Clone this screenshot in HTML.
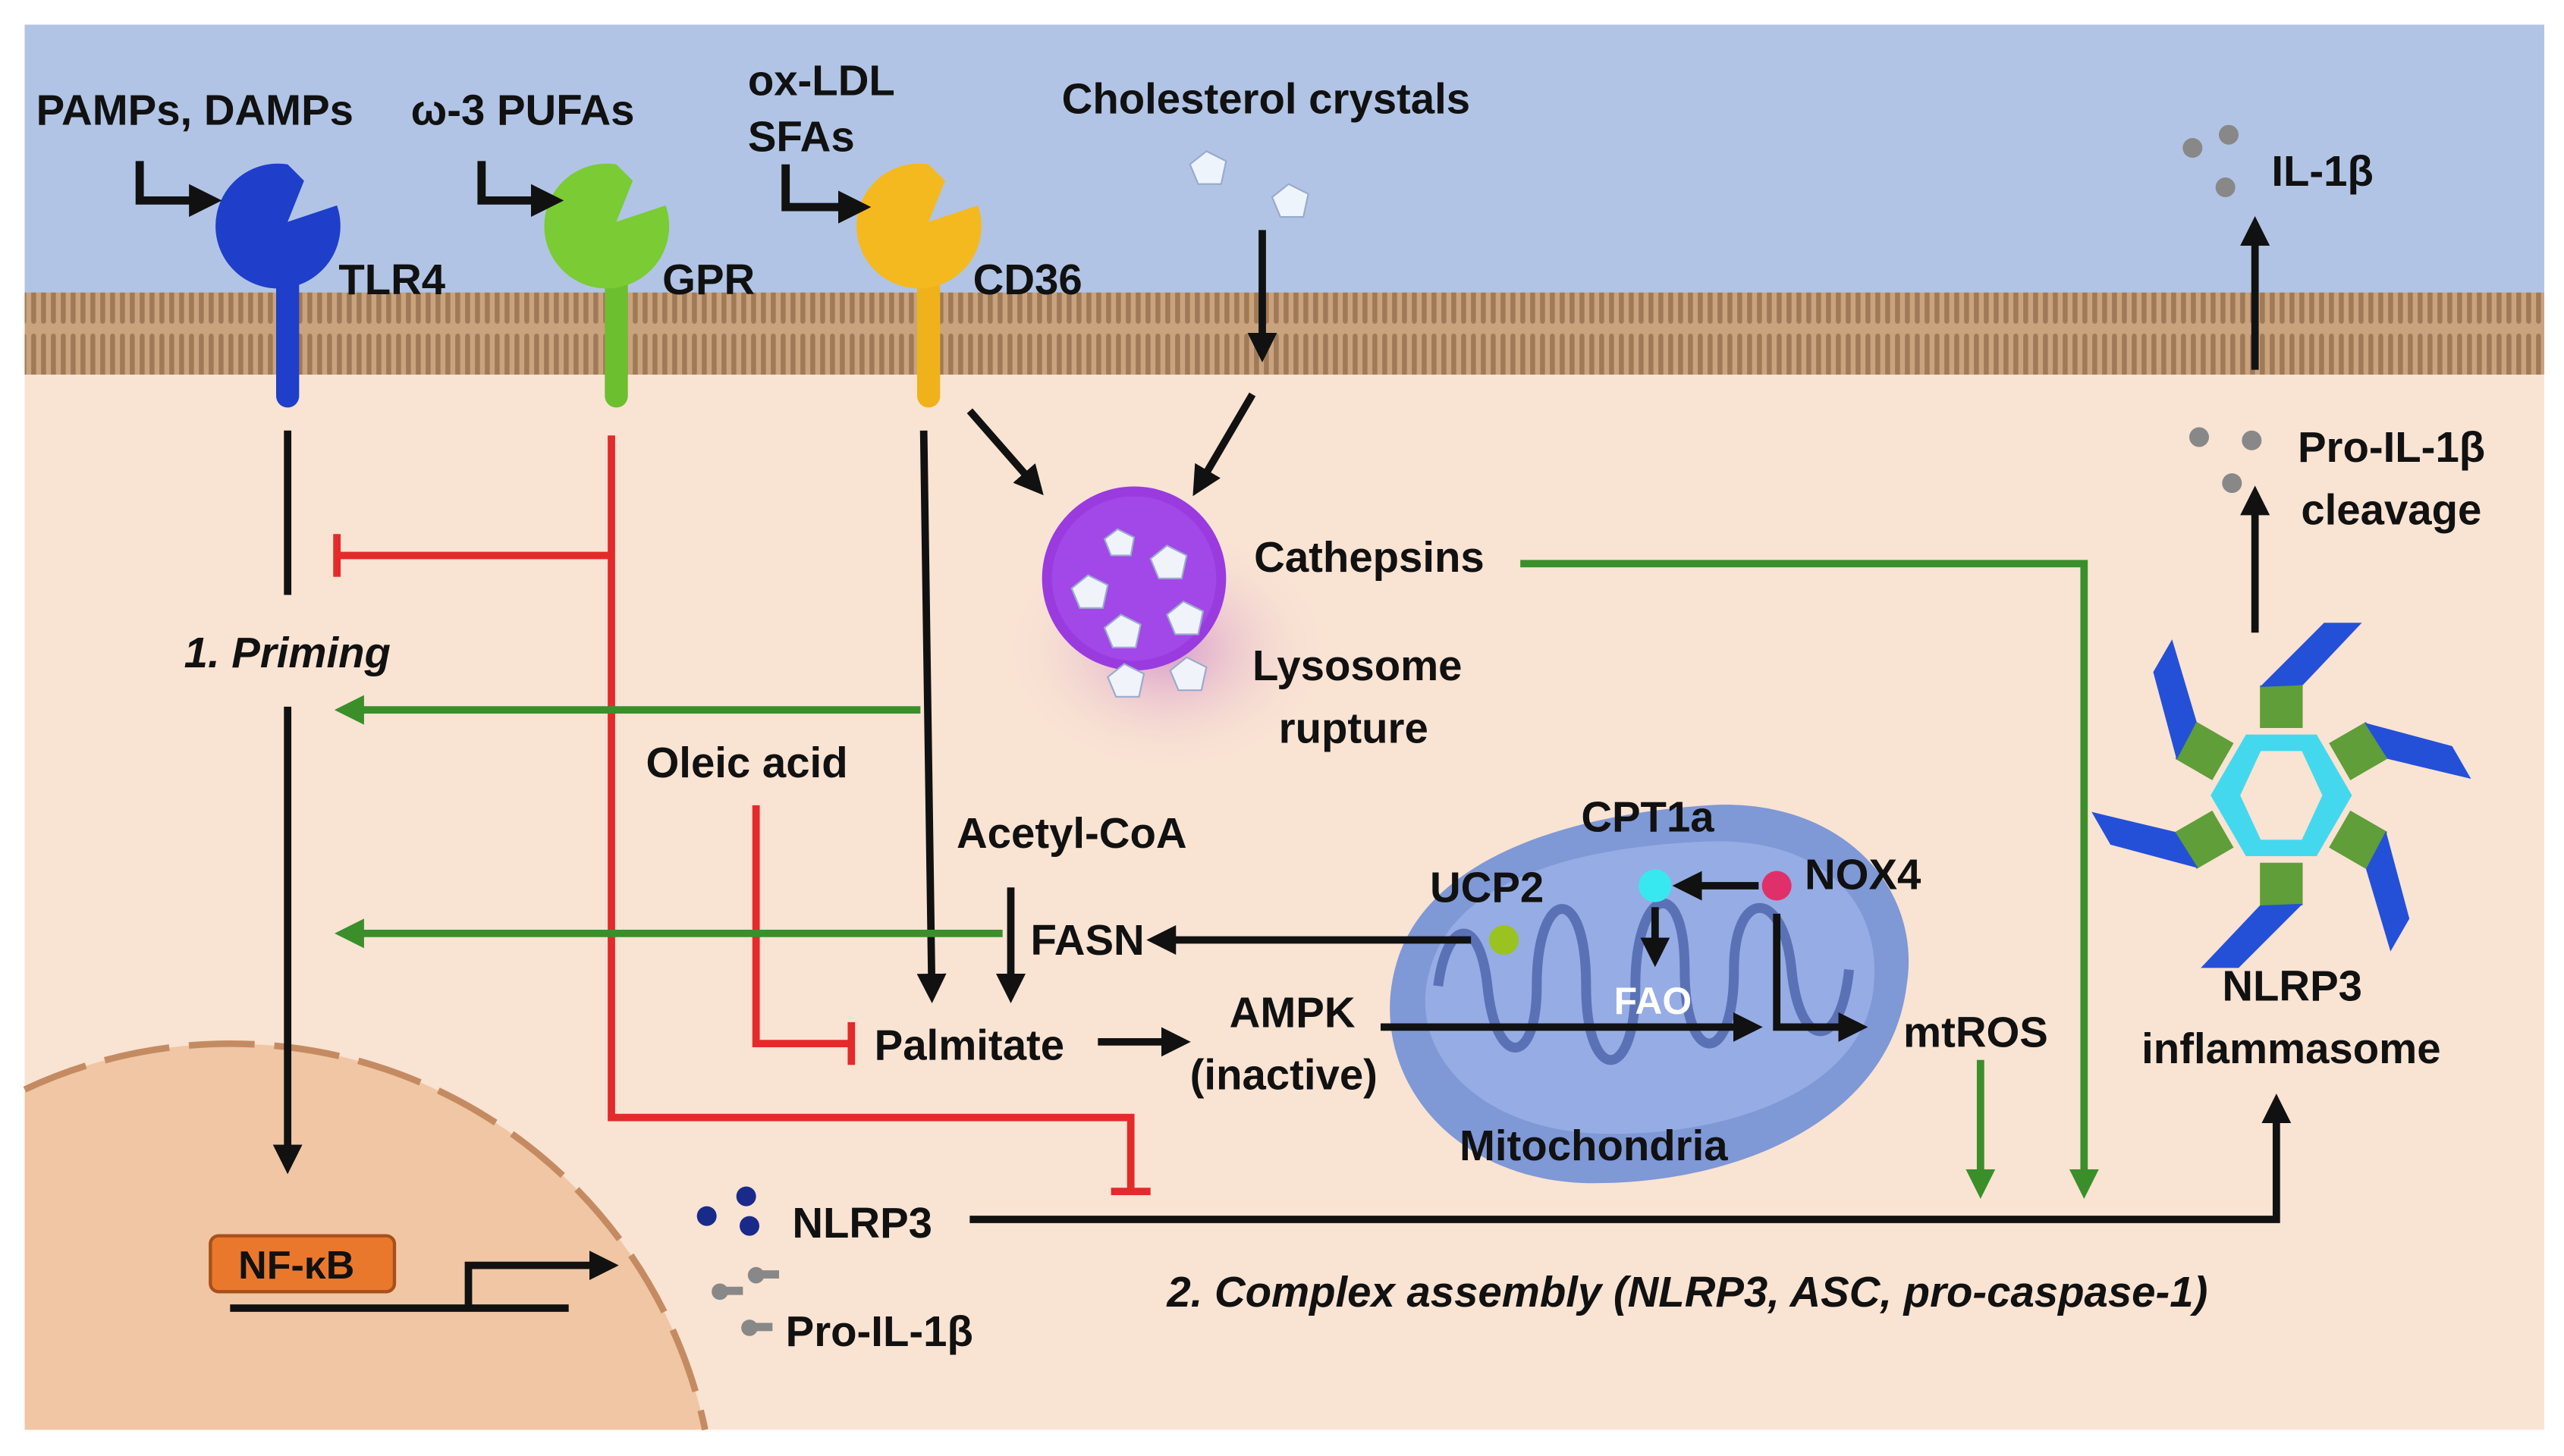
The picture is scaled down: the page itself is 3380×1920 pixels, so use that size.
<!DOCTYPE html>
<html><head><meta charset="utf-8"><style>
html,body{margin:0;padding:0;background:#fff;overflow:hidden;width:3380px;height:1920px;}
svg{display:block;}
text{font-family:"Liberation Sans",sans-serif;font-weight:bold;fill:#111;}
</style></head><body>
<svg width="3380" height="1920" viewBox="0 0 1560 886" preserveAspectRatio="none" xmlns="http://www.w3.org/2000/svg">
<defs>
<marker id="ab" markerWidth="4" markerHeight="4" refX="3" refY="2" orient="auto" markerUnits="strokeWidth"><path d="M0,0 L4,2 L0,4 z" fill="#111"/></marker>
<marker id="ag" markerWidth="4" markerHeight="4" refX="3" refY="2" orient="auto" markerUnits="strokeWidth"><path d="M0,0 L4,2 L0,4 z" fill="#3a8f2a"/></marker>
<pattern id="mem" width="6" height="50" patternUnits="userSpaceOnUse"><rect width="6" height="50" fill="#c9a27e"/><rect x="1" y="3" width="3" height="44" rx="1.5" fill="#a07a58"/></pattern>
<radialGradient id="glow"><stop offset="0" stop-color="#d89ccb"/><stop offset="1" stop-color="#f9e3d3" stop-opacity="0"/></radialGradient>
</defs>
<rect x="15" y="15" width="1533" height="165" fill="#b1c4e5"/>
<rect x="15" y="178" width="1533" height="50" fill="url(#mem)"/>
<rect x="15" y="228" width="1533" height="642" fill="#f9e3d3"/>
<path d="M15,663 A295,295 0 0,1 429,870 L15,870 Z" fill="#f0c6a4"/>
<path d="M15,663 A295,295 0 0,1 429,870" fill="none" stroke="#c48b62" stroke-width="4" stroke-dasharray="40,12"/>
<ellipse cx="710" cy="395" rx="100" ry="75" fill="url(#glow)"/>
<!-- receptors -->
<g>
<rect x="168" y="150" width="14" height="98" rx="7" fill="#1f3ec9"/>
<path d="M175,100 a38,38 0 1,0 30,25 L175,135 L185,110 z" fill="#1f3ec9"/>
<rect x="368" y="150" width="14" height="98" rx="7" fill="#6cbf2e"/>
<path d="M375,100 a38,38 0 1,0 30,25 L375,135 L385,110 z" fill="#7acb34"/>
<rect x="558" y="150" width="14" height="98" rx="7" fill="#f0b21a"/>
<path d="M565,100 a38,38 0 1,0 30,25 L565,135 L575,110 z" fill="#f4b91e"/>
</g>
<text x="22" y="76" font-size="26">PAMPs, DAMPs</text>
<text x="250" y="76" font-size="26">ω-3 PUFAs</text>
<text x="455" y="58" font-size="26">ox-LDL</text>
<text x="455" y="92" font-size="26">SFAs</text>
<text x="646" y="69" font-size="26">Cholesterol crystals</text>
<text x="206" y="179" font-size="26">TLR4</text>
<text x="403" y="179" font-size="26">GPR</text>
<text x="592" y="179" font-size="26">CD36</text>
<g stroke="#111" stroke-width="5" fill="none">
<path d="M85,98 V122 H130" marker-end="url(#ab)"/>
<path d="M293,98 V122 H338" marker-end="url(#ab)"/>
<path d="M478,100 V126 H525" marker-end="url(#ab)"/>
</g>
<polygon points="734,92 746,98 743,112 729,112 724,100" fill="#eef4fb" stroke="#99aacc"/>
<polygon points="784,112 796,118 793,132 779,132 774,120" fill="#eef4fb" stroke="#99aacc"/>
<circle cx="1334" cy="90" r="6" fill="#888"/><circle cx="1356" cy="82" r="6" fill="#888"/><circle cx="1354" cy="114" r="6" fill="#888"/>
<text x="1382" y="113" font-size="26">IL-1β</text>
<!-- lysosome -->
<circle cx="690" cy="352" r="56" fill="#9a3be0"/>
<circle cx="690" cy="352" r="50" fill="#a247e8"/>
<g fill="#f0f3fa" stroke="#9aaacc">
<polygon points="710,332 722,338 719,352 705,352 700,340"/>
<polygon points="662,350 674,356 671,370 657,370 652,358"/>
<polygon points="682,374 694,380 691,394 677,394 672,382"/>
<polygon points="720,366 732,372 729,386 715,386 710,374"/>
<polygon points="680,322 690,327 688,338 676,338 672,328"/>
<polygon points="684,404 696,410 693,424 679,424 674,412"/>
<polygon points="722,400 734,406 731,420 717,420 712,408"/>
</g>
<text x="763" y="348" font-size="26">Cathepsins</text>
<text x="762" y="414" font-size="26">Lysosome</text>
<text x="778" y="452" font-size="26">rupture</text>
<!-- mitochondria -->
<path d="M850,585 C870,520 960,495 1040,490 C1120,485 1170,540 1160,600 C1150,680 1060,720 970,720 C880,720 830,650 850,585 z" fill="#7f98d6"/>
<path d="M870,590 C885,535 960,515 1040,512 C1110,510 1145,550 1140,600 C1135,660 1060,690 980,690 C900,690 855,640 870,590 z" fill="#96ace4"/>
<path d="M875,600 C880,560 900,555 905,600 C910,650 935,650 935,600 C935,540 965,535 965,600 C965,660 995,660 995,600 C995,540 1025,530 1025,590 C1025,650 1055,650 1055,590 C1055,540 1085,540 1090,590 C1095,640 1120,640 1125,590" fill="none" stroke="#5a72b5" stroke-width="6"/>
<circle cx="915" cy="572" r="9" fill="#9ac321"/>
<circle cx="1007" cy="539" r="10" fill="#38e8f0"/>
<circle cx="1081" cy="539" r="9" fill="#e0306a"/>
<text x="870" y="549" font-size="26">UCP2</text>
<text x="962" y="506" font-size="26">CPT1a</text>
<text x="1098" y="541" font-size="26">NOX4</text>
<text x="982" y="617" font-size="23" style="fill:#fff">FAO</text>
<text x="888" y="706" font-size="26">Mitochondria</text>
<text x="1158" y="637" font-size="26">mtROS</text>
<!-- inflammasome -->
<g transform="translate(1388,484)">
<g id="arm">
<rect x="-13" y="-67" width="26" height="26" fill="#5f9e38"/>
<polygon points="-13,-66 13,-67 49,-105 26,-105" fill="#2450d8"/>
</g>
<use href="#arm" transform="rotate(60)"/>
<use href="#arm" transform="rotate(120)"/>
<use href="#arm" transform="rotate(180)"/>
<use href="#arm" transform="rotate(240)"/>
<use href="#arm" transform="rotate(300)"/>
<polygon points="-43,0 -21.5,-37 21.5,-37 43,0 21.5,37 -21.5,37" fill="#44d8ee"/>
<polygon points="-25,0 -12.5,-27 12.5,-27 25,0 12.5,27 -12.5,27" fill="#f9e3d3"/>
</g>
<text x="1352" y="609" font-size="26">NLRP3</text>
<text x="1303" y="647" font-size="26">inflammasome</text>
<circle cx="1338" cy="266" r="6" fill="#888"/><circle cx="1370" cy="268" r="6" fill="#888"/><circle cx="1358" cy="294" r="6" fill="#888"/>
<text x="1398" y="281" font-size="26">Pro-IL-1β</text>
<text x="1400" y="319" font-size="26">cleavage</text>
<!-- labels -->
<text x="112" y="406" font-size="26" font-style="italic">1. Priming</text>
<text x="393" y="473" font-size="26">Oleic acid</text>
<text x="582" y="516" font-size="26">Acetyl-CoA</text>
<text x="627" y="581" font-size="26">FASN</text>
<text x="532" y="645" font-size="26">Palmitate</text>
<text x="748" y="625" font-size="26">AMPK</text>
<text x="724" y="663" font-size="26">(inactive)</text>
<text x="482" y="753" font-size="26">NLRP3</text>
<text x="478" y="819" font-size="26">Pro-IL-1β</text>
<text x="710" y="795" font-size="26" font-style="italic">2. Complex assembly (NLRP3, ASC, pro-caspase-1)</text>
<circle cx="430" cy="740" r="6" fill="#1a2a8a"/><circle cx="454" cy="728" r="6" fill="#1a2a8a"/><circle cx="456" cy="746" r="6" fill="#1a2a8a"/>
<g fill="#888"><circle cx="438" cy="786" r="5"/><rect x="440" y="783" width="12" height="5"/><circle cx="460" cy="776" r="5"/><rect x="462" y="773" width="12" height="5"/><circle cx="456" cy="808" r="5"/><rect x="458" y="805" width="12" height="5"/></g>
<rect x="128" y="752" width="112" height="34" rx="5" fill="#e9782d" stroke="#a8501a" stroke-width="2"/>
<text x="145" y="778" font-size="24">NF-κB</text>
<!-- black connectors -->
<g stroke="#111" stroke-width="4.5" fill="none">
<path d="M140,796 H346"/>
<path d="M285,796 V770 H372" marker-end="url(#ab)"/>
<path d="M175,262 V362"/>
<path d="M175,430 V710" marker-end="url(#ab)"/>
<path d="M562,262 L567,606" marker-end="url(#ab)"/>
<path d="M615,540 V606" marker-end="url(#ab)"/>
<path d="M590,250 L632,298" marker-end="url(#ab)"/>
<path d="M768,140 V216" marker-end="url(#ab)"/>
<path d="M762,240 L728,298" marker-end="url(#ab)"/>
<path d="M668,634 H720" marker-end="url(#ab)"/>
<path d="M840,625 H1068" marker-end="url(#ab)"/>
<path d="M1081,556 V625 H1132" marker-end="url(#ab)"/>
<path d="M1070,539 H1022" marker-end="url(#ab)"/>
<path d="M1007,552 V584" marker-end="url(#ab)"/>
<path d="M895,572 H702" marker-end="url(#ab)"/>
<path d="M590,742 H1385 V670" marker-end="url(#ab)"/>
<path d="M1372,385 V300" marker-end="url(#ab)"/>
<path d="M1372,225 V136" marker-end="url(#ab)"/>
</g>
<!-- red -->
<g stroke="#e42a2a" stroke-width="4.5" fill="none">
<path d="M372,265 V680 H688 V725"/>
<path d="M676,725 H700"/>
<path d="M372,338 H205"/>
<path d="M205,325 V351"/>
<path d="M460,490 V635 H518"/>
<path d="M518,622 V648"/>
</g>
<!-- green -->
<g stroke="#3a8f2a" stroke-width="4.5" fill="none">
<path d="M560,432 H208" marker-end="url(#ag)"/>
<path d="M610,568 H208" marker-end="url(#ag)"/>
<path d="M925,343 H1268 V725" marker-end="url(#ag)"/>
<path d="M1205,645 V725" marker-end="url(#ag)"/>
</g>
</svg>
</body></html>
